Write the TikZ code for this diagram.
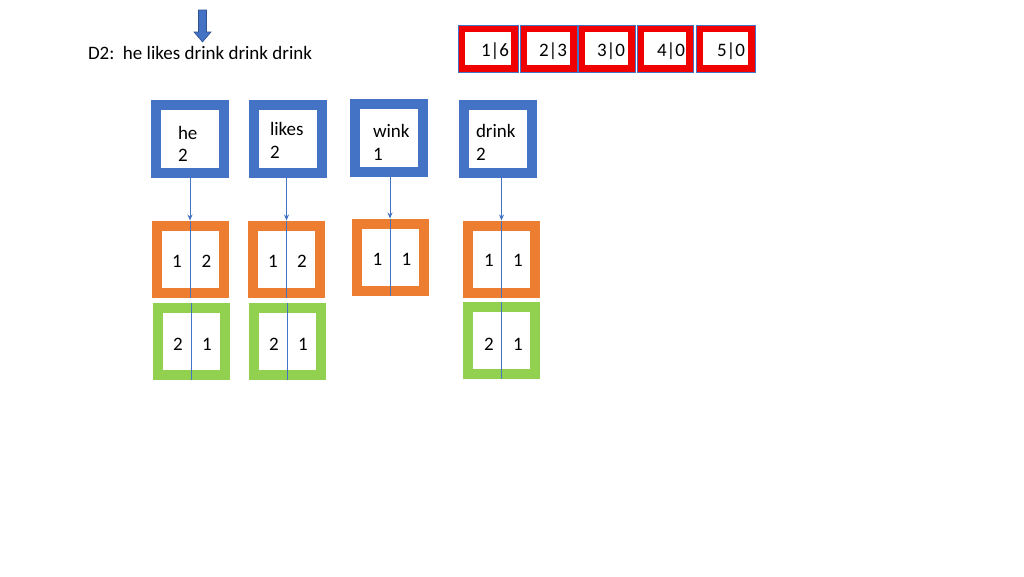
\documentclass[tikz,border=0pt]{standalone}
\usepackage{fontspec}
\setmainfont{Carlito}
\usetikzlibrary{arrows.meta}
\definecolor{cblue}{HTML}{4472C4}
\definecolor{cblueD}{HTML}{2F528F}
\definecolor{corange}{HTML}{ED7D31}
\definecolor{cgreen}{HTML}{92D050}
\definecolor{cred}{HTML}{F00000}
\begin{document}
\begin{tikzpicture}[x=1pt,y=-1pt,
  every node/.style={font=\fontsize{19}{23}\selectfont, inner sep=0pt, outer sep=0pt},
  wordbox/.style={draw=cblue, line width=10pt, fill=white, minimum width=68pt, minimum height=68pt, outer sep=5pt},
  obox/.style={draw=corange, line width=10pt, fill=white, minimum width=67pt, minimum height=67pt, outer sep=5pt},
  gbox/.style={draw=cgreen, line width=10pt, fill=white, minimum width=67pt, minimum height=67pt, outer sep=5pt},
  rbox/.style={draw=cred, line width=7pt, fill=white, minimum height=40pt, outer sep=3.5pt},
  link/.style={draw=cblue, line width=0.8pt, -{Stealth[length=6pt,width=5pt]}},
  divider/.style={draw=cblue, line width=0.8pt},
  lbl/.style={anchor=base west},
  num/.style={anchor=base}
]
\useasboundingbox[fill=white] (0,0) rectangle (1024,576);

% top block arrow
\filldraw[fill=cblue, draw=cblueD, line width=0.6pt]
  (198.5,10) -- (206.5,10) -- (206.5,32) -- (211,32) -- (202.5,42) -- (194,32) -- (198.5,32) -- cycle;

\node[lbl] (title) at (88,59) {D2:~~he likes drink drink drink};

% red boxes
\node[rbox, minimum width=53pt] (r1) at (488,48.5) {};
\node[rbox, minimum width=50pt] (r2) at (548.5,48.5) {};
\node[rbox, minimum width=50pt] (r3) at (606.5,48.5) {};
\node[rbox, minimum width=49pt] (r4) at (665,48.5) {};
\node[rbox, minimum width=52pt] (r5) at (725.5,48.5) {};
\foreach \n in {r1,r2,r3,r4,r5}
  \draw[cblue, line width=0.6pt] (\n.north west) rectangle (\n.south east);
\node[num] (t1) at (495,56) {1|6};
\node[num] (t2) at (553,56) {2|3};
\node[num] (t3) at (611,56) {3|0};
\node[num] (t4) at (671,56) {4|0};
\node[num] (t5) at (731,56) {5|0};

% word boxes
\node[wordbox] (he) at (190,139) {};
\node[wordbox] (likes) at (287.5,139) {};
\node[wordbox] (wink) at (389,138) {};
\node[wordbox] (drink) at (498,139) {};

\node[lbl] (heA) at (178,139) {he};
\node[lbl] (heB) at (178,161) {2};
\node[lbl] (likesA) at (270,135.5) {likes};
\node[lbl] (likesB) at (270,158) {2};
\node[lbl] (winkA) at (373,137) {wink};
\node[lbl] (winkB) at (373,160) {1};
\node[lbl] (drinkA) at (476,137) {drink};
\node[lbl] (drinkB) at (476,160) {2};

% posting boxes
\node[obox] (heo) at (190,259) {};
\node[gbox] (heg) at (191,341.5) {};
\node[obox] (likeso) at (286.5,259) {};
\node[gbox] (likesg) at (287,341.5) {};
\node[obox] (winko) at (390,257) {};
\node[obox] (drinko) at (501.5,259) {};
\node[gbox] (drinkg) at (501.5,340.5) {};

% dividers
\foreach \n in {heo,heg,likeso,likesg,winko,drinko,drinkg}
  \draw[divider] (\n.north) -- (\n.south);

% links
\draw[link] (he.south) -- (heo.north);
\draw[link] (likes.south -| likeso.north) -- (likeso.north);
\draw[link] (wink.south -| winko.north) -- (winko.north);
\draw[link] (drink.south -| drinko.north) -- (drinko.north);

% numbers
\node[num] (n1) at (177,267) {1};
\node[num] (n2) at (206.5,267) {2};
\node[num] (n3) at (178,350) {2};
\node[num] (n4) at (207,350) {1};
\node[num] (n5) at (273,267) {1};
\node[num] (n6) at (302,267) {2};
\node[num] (n7) at (274,350) {2};
\node[num] (n8) at (303,350) {1};
\node[num] (n9) at (377.5,265.5) {1};
\node[num] (n10) at (406.5,265.5) {1};
\node[num] (n11) at (489,266.5) {1};
\node[num] (n12) at (518,266.5) {1};
\node[num] (n13) at (489,350) {2};
\node[num] (n14) at (518,350) {1};
\end{tikzpicture}
\end{document}
